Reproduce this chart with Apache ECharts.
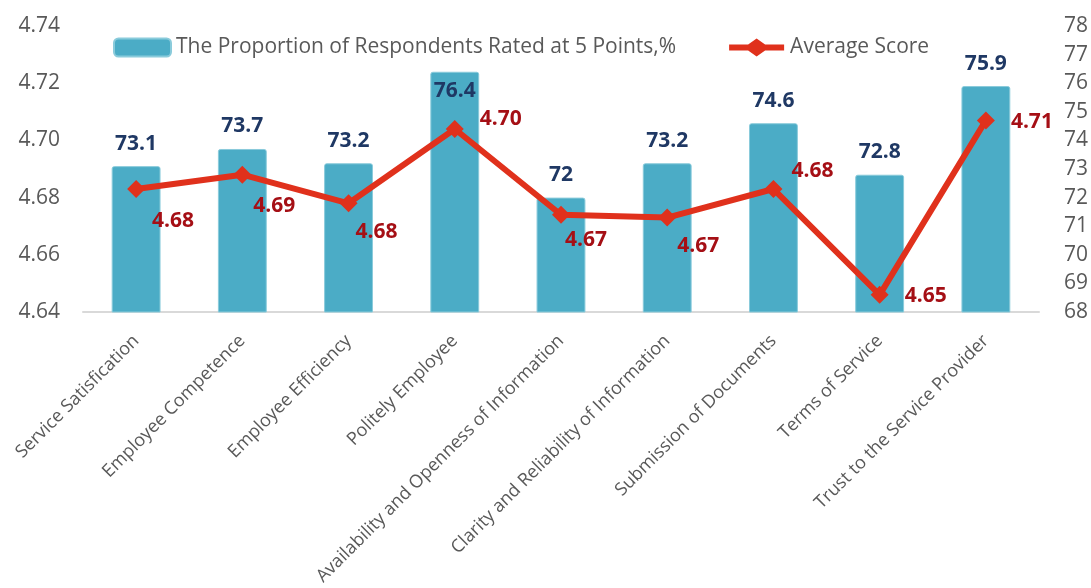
<!DOCTYPE html>
<html>
<head>
<meta charset="utf-8">
<script src="https://cdn.jsdelivr.net/npm/echarts@6/dist/echarts.min.js"></script>
<style>
  html, body { margin: 0; padding: 0; background: #fff; }
  #chart { width: 1091px; height: 588px; }
</style>
</head>
<body>
<div id="chart"></div>
<script>
const categories = [
  'Service Satisfication',
  'Employee Competence',
  'Employee Efficiency',
  'Politely Employee',
  'Availability and Openness of Information',
  'Clarity and Reliability of Information',
  'Submission of Documents',
  'Terms of Service',
  'Trust to the Service Provider'
];
const shareRated5 = [73.1, 73.7, 73.2, 76.4, 72, 73.2, 74.6, 72.8, 75.9];
const averageScore = [4.683, 4.688, 4.678, 4.704, 4.674, 4.673, 4.683, 4.646, 4.707];
const scoreTicks = { min: 4.64, max: 4.74, step: 0.02 };
const shareTicks = { min: 68, max: 78, step: 1 };

// label nudges for the red labels (px)
const scoreLabelShift = [[-9, 32], [-14, 31], [-18, 29], [0, -10], [-21, 25], [-15, 28], [-7, -18], [0, 1], [0, 2]];

const font = 'Open Sans';
const grey = '#595959';
const red = '#E0311C';
const barName = 'The Proportion of Respondents Rated at 5 Points,%';
const lineName = 'Average Score';

let chart = echarts.init(document.getElementById('chart'));

chart.setOption({
  animation: false,
  textStyle: { fontFamily: font },
  grid: { left: 83, right: 51, top: 26, bottom: 276 },
  legend: {
    top: 32,
    left: 108,
    itemGap: 53,
    itemWidth: 57,
    itemHeight: 18,
    textStyle: { fontFamily: font, fontSize: 21, color: grey },
    data: [
      { name: barName, icon: 'roundRect' },
      {
        name: lineName,
        icon: 'path://M0,6 L19,6 L27.5,0 L36,6 L55,6 L55,12 L36,12 L27.5,18 L19,12 L0,12 Z',
        itemStyle: { color: red }
      }
    ]
  },
  xAxis: {
    type: 'category',
    data: categories,
    axisTick: { show: false },
    axisLine: { lineStyle: { color: '#D9D9D9', width: 2 } },
    axisLabel: {
      rotate: 45,
      interval: 0,
      margin: 26,
      fontFamily: font,
      fontSize: 18,
      color: grey
    }
  },
  yAxis: [
    {
      type: 'value',
      position: 'left',
      min: scoreTicks.min,
      max: scoreTicks.max,
      interval: scoreTicks.step,
      splitLine: { show: false },
      axisLine: { show: false },
      axisTick: { show: false },
      axisLabel: {
        margin: 23,
        fontFamily: font,
        fontSize: 21,
        color: grey,
        formatter: v => v.toFixed(2)
      }
    },
    {
      type: 'value',
      position: 'right',
      min: shareTicks.min,
      max: shareTicks.max,
      interval: shareTicks.step,
      splitLine: { show: false },
      axisLine: { show: false },
      axisTick: { show: false },
      axisLabel: { margin: 25, fontFamily: font, fontSize: 21, color: grey }
    }
  ],
  series: [
    {
      name: barName,
      type: 'bar',
      yAxisIndex: 1,
      barWidth: '46%',
      itemStyle: { color: '#4BACC6', borderRadius: [2, 2, 0, 0], borderColor: '#8ACBDB', borderWidth: 1 },
      label: {
        show: true,
        position: 'top',
        distance: 12,
        fontFamily: font,
        fontSize: 21,
        fontWeight: 'bold',
        color: '#1F3864'
      },
      data: shareRated5.map((v, i) =>
        i === 3 ? { value: v, label: { position: 'insideTop', distance: 9 } } : v
      )
    },
    {
      name: lineName,
      type: 'line',
      yAxisIndex: 0,
      symbol: 'diamond',
      symbolSize: 18,
      z: 5,
      lineStyle: { color: red, width: 6 },
      itemStyle: { color: red },
      label: {
        show: true,
        position: 'right',
        distance: 16,
        fontFamily: font,
        fontSize: 21,
        fontWeight: 'bold',
        color: '#A50F15',
        formatter: p => p.value.toFixed(2)
      },
      data: averageScore.map((v, i) => ({ value: v, label: { offset: scoreLabelShift[i] } }))
    }
  ]
});
</script>
</body>
</html>
